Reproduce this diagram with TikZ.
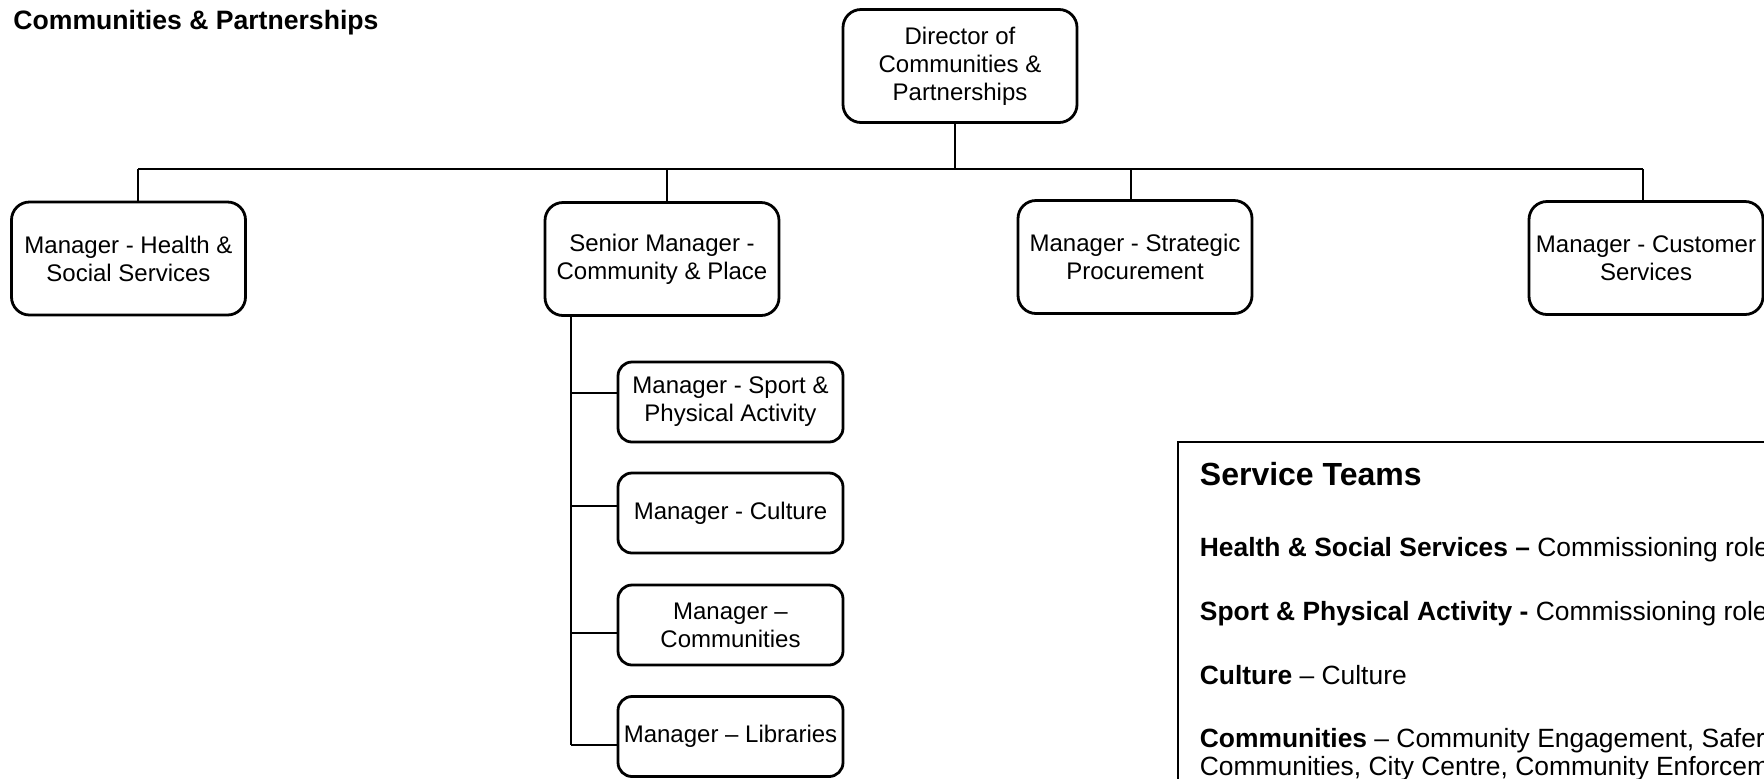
\documentclass[tikz,border=0pt]{standalone}
\usepackage{fontspec}
\setmainfont{Liberation Sans}
\begin{document}
\begin{tikzpicture}[x=0.5pt,y=-0.5pt,
  box/.style={draw, line width=1.4pt, rounded corners=9pt, align=center, inner sep=0pt,
    minimum width=117pt, minimum height=56.5pt, font=\fontsize{12}{14}\selectfont},
  subbox/.style={box, rounded corners=7pt, minimum width=112.5pt, minimum height=40pt},
  conn/.style={line width=1.1pt},
  txt/.style={anchor=base west, inner sep=0pt, font=\fontsize{13.2}{15}\selectfont}]
\useasboundingbox (0,0) rectangle (1764,778);
\clip (0,0) rectangle (1764,778);
% title
\node[anchor=base west, inner sep=0pt, font=\bfseries\fontsize{13.3}{16}\selectfont] (title) at (13,29) {Communities \& Partnerships};
% boxes
\node[box] (dir) at (960,66) {Director of\\Communities \&\\Partnerships};
\node[box] (hss) at (128.5,258.5) {Manager - Health \&\\Social Services};
\node[box] (sen) at (662,259) {Senior Manager -\\Community \& Place};
\node[box] (proc) at (1135,257) {Manager - Strategic\\Procurement};
\node[box] (cust) at (1646,258) {Manager - Customer\\Services};
\node[subbox] (sport) at (730.5,402) {Manager - Sport \&\\Physical Activity};
\node[subbox] (cult) at (730.5,513) {Manager - Culture};
\node[subbox] (comm) at (730.5,625) {Manager \textendash\\Communities};
\node[subbox] (lib) at (730.5,736.5) {Manager \textendash\ Libraries};
% bus
\coordinate (bd) at (955,169);
\coordinate (b1) at (138,169);
\coordinate (b2) at (667,169);
\coordinate (b3) at (1131,169);
\coordinate (b4) at (1643,169);
\draw[conn] (bd |- dir.south) -- (bd);
\draw[conn] (b1) -- (b4);
\draw[conn] (b1) -- (b1 |- hss.north);
\draw[conn] (b2) -- (b2 |- sen.north);
\draw[conn] (b3) -- (b3 |- proc.north);
\draw[conn] (b4) -- (b4 |- cust.north);
% sub tree
\coordinate (v0) at (571,315);
\coordinate (r1) at (571,393);
\coordinate (r2) at (571,506);
\coordinate (r3) at (571,633);
\coordinate (r4) at (571,745);
\draw[conn] (v0 |- sen.south) -- (r4);
\draw[conn] (r1) -- (r1 -| sport.west);
\draw[conn] (r2) -- (r2 -| cult.west);
\draw[conn] (r3) -- (r3 -| comm.west);
\draw[conn] (r4) -- (r4 -| lib.west);
% service teams panel
\node[draw, line width=1.2pt, inner sep=0pt, anchor=north west, minimum width=320pt, minimum height=190pt] (panel) at (1177,441) {};
\node[txt, font=\bfseries\fontsize{16}{18}\selectfont] (st) at (1199.5,485) {Service Teams};
\node[txt] (t1) at (1199.5,556) {\textbf{Health \& Social Services \textendash} Commissioning role};
\node[txt] (t2) at (1199.5,620) {\textbf{Sport \& Physical Activity -} Commissioning role};
\node[txt] (t3) at (1199.5,684) {\textbf{Culture} \textendash\ Culture};
\node[txt] (t4) at (1199.5,747) {\textbf{Communities} \textendash\ Community Engagement, Safer};
\node[txt] (t5) at (1199.5,775) {Communities, City Centre, Community Enforcem};
\end{tikzpicture}
\end{document}
